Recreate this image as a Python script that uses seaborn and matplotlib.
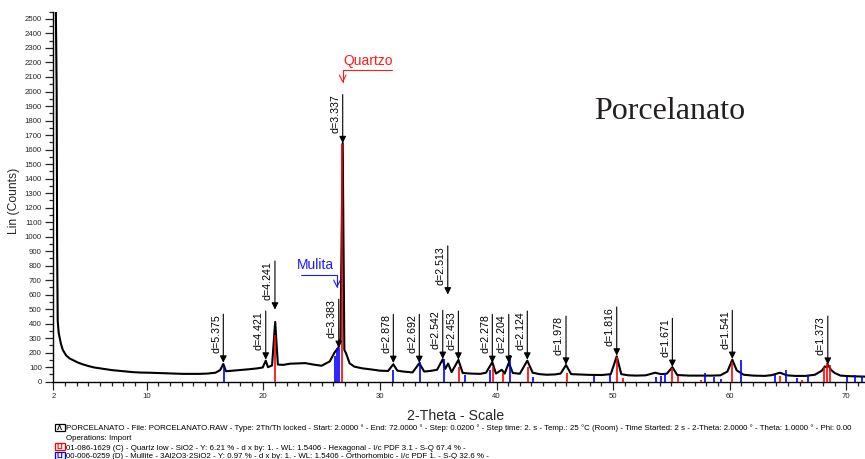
import pandas as pd
import seaborn as sns
import matplotlib.pyplot as plt
from matplotlib.patches import Rectangle
from matplotlib.ticker import MultipleLocator, FixedLocator

two_theta = [2.00, 2.20, 2.28, 2.32, 2.37, 2.45, 2.52, 2.65, 2.80, 3.10,
             3.40, 3.70, 4.10, 4.50, 5.00, 5.50, 6.00, 6.50, 7.00, 7.50,
             8.00, 8.80, 9.50, 10.20, 11.00, 11.70, 12.50, 13.10, 14.00, 14.50,
             15.20, 15.90, 16.30, 16.57, 16.80, 17.40, 18.00, 18.80, 19.50, 19.95,
             20.21, 20.40, 20.75, 21.02, 21.25, 21.70, 22.30, 23.10, 23.60, 24.30,
             25.00, 25.70, 26.10, 26.45, 26.62, 26.81, 26.95, 27.10, 27.40, 27.80,
             28.50, 29.30, 30.00, 30.70, 31.15, 31.50, 32.00, 32.80, 33.38, 33.80,
             34.30, 34.90, 35.39, 35.60, 35.85, 36.15, 36.73, 37.10, 37.80, 38.60,
             39.10, 39.64, 39.95, 40.45, 40.70, 41.05, 41.40, 42.00, 42.64, 43.10,
             43.70, 44.30, 45.00, 45.50, 45.96, 46.40, 47.00, 48.00, 49.00, 49.80,
             50.31, 50.70, 51.30, 52.00, 52.80, 53.60, 54.10, 54.60, 55.08, 55.50,
             56.50, 57.50, 58.50, 59.20, 59.80, 60.22, 60.60, 61.20, 62.00, 63.00,
             63.60, 64.30, 64.90, 65.60, 66.50, 67.30, 67.90, 68.15, 68.30, 68.43,
             68.70, 69.00, 69.50, 70.30, 71.00, 71.60]
counts = [2700, 2650, 2000, 900, 420, 340, 310, 260, 220, 180,
          160, 148, 132, 120, 108, 98, 92, 86, 80, 76,
          72, 66, 63, 62, 60, 58, 56, 54, 54, 54,
          56, 62, 80, 122, 72, 76, 80, 86, 92, 98,
          145, 100, 112, 412, 118, 116, 124, 126, 128, 118,
          110, 140, 200, 236, 300, 1645, 220, 195, 127, 104,
          92, 84, 76, 74, 120, 76, 70, 64, 127, 70,
          74, 82, 155, 88, 125, 66, 150, 60, 56, 54,
          62, 135, 56, 82, 56, 130, 60, 55, 145, 62,
          52, 48, 50, 56, 115, 52, 50, 47, 46, 52,
          175, 52, 44, 42, 44, 62, 52, 55, 100, 46,
          42, 42, 42, 44, 70, 152, 78, 48, 42, 40,
          45, 62, 44, 40, 40, 48, 76, 105, 100, 115,
          80, 60, 42, 38, 36, 35]

# reference cards (stick patterns)
quartz_pos = [21.03, 26.78, 36.76, 39.68, 40.53, 42.73, 46.02, 50.36, 50.82,
              55.08, 55.54, 57.54, 60.17, 64.31, 66.18, 68.06, 68.34, 68.63]
quartz_int = [322, 1640, 104, 104, 58, 104, 58, 173, 26,
              95, 42, 12, 135, 39, 12, 104, 127, 115]
mullite_pos = [16.60, 26.17, 26.35, 26.52, 31.12, 33.42, 35.47, 37.26, 39.44,
               41.16, 43.16, 48.39, 49.74, 53.68, 54.08, 54.41, 57.88, 58.68,
               59.25, 60.97, 63.91, 64.80, 65.75, 66.74, 70.04, 70.75, 71.32]
mullite_int = [104, 175, 235, 235, 81, 138, 155, 45, 81,
               184, 32, 37, 48, 32, 37, 58, 62, 32,
               19, 150, 46, 81, 26, 46, 35, 46, 37]

# d-spacing markers
d_labels = ["5.375", "4.421", "4.241", "3.383", "3.337", "2.878", "2.692", "2.542", "2.513",
            "2.453", "2.278", "2.204", "2.124", "1.978", "1.816", "1.671", "1.541", "1.373"]
d_pos = [16.57, 20.21, 21.00, 26.47, 26.81, 31.15, 33.38, 35.39, 35.82,
         36.73, 39.64, 41.05, 42.64, 45.96, 50.31, 55.08, 60.22, 68.41]
d_mark = [131, 152, 497, 233, 1644, 129, 129, 157, 601,
          152, 129, 129, 152, 117, 180, 102, 157, 117]

footer = [
    "PORCELANATO - File: PORCELANATO.RAW - Type: 2Th/Th locked - Start: 2.0000 ° - End: 72.0000 ° - "
    "Step: 0.0200 ° - Step time: 2. s - Temp.: 25 °C (Room) - Time Started: 2 s - 2-Theta: 2.0000 ° - "
    "Theta: 1.0000 ° - Phi: 0.00",
    "Operations: Import",
    "01-086-1629 (C) - Quartz low - SiO2 - Y: 6.21 % - d x by: 1. - WL: 1.5406 - Hexagonal - I/c PDF 3.1 - S-Q 67.4 % -",
    "00-006-0259 (D) - Mullite - 3Al2O3·2SiO2 - Y: 0.97 % - d x by: 1. - WL: 1.5406 - Orthorhombic - I/c PDF 1. - S-Q 32.6 % -",
]

sns.set_theme(style="ticks")
plt.rcParams["font.family"] = ["Liberation Sans", "DejaVu Sans"]

W, H = 865, 459
fig = plt.figure(figsize=(W / 100, H / 100), dpi=100)
ax = fig.add_axes([53.4 / W, 77.3 / H, 811.6 / W, 370 / H])

scan = pd.DataFrame({"two_theta": two_theta, "counts": counts})
sns.lineplot(data=scan, x="two_theta", y="counts", ax=ax, color="black",
             lw=1.5, estimator=None, sort=False, zorder=2)

ax.vlines(quartz_pos, 0, quartz_int, color="#ff0000", lw=1.2, zorder=3)
ax.vlines(mullite_pos, 0, mullite_int, color="#0000ff", lw=1.2, zorder=3)

for lab, x, y in zip(d_labels, d_pos, d_mark):
    ax.annotate("", xy=(x, y), xytext=(0, 35), textcoords="offset points",
                arrowprops=dict(arrowstyle="-|>,head_length=0.5,head_width=0.25",
                                color="black", lw=0.8, mutation_scale=8,
                                shrinkA=0, shrinkB=0), zorder=4)
    ax.annotate(f"d={lab}", xy=(x, y), xytext=(-1.5, 35), textcoords="offset points",
                rotation=90, ha="right", va="top", fontsize=7.7, color="black")

# phase call-outs
ax.annotate("", xy=(26.81, 2059), xytext=(31.04, 2148),
            arrowprops=dict(arrowstyle="->", color="#ff1a1a", lw=0.8, shrinkA=0, shrinkB=0,
                            connectionstyle="angle,angleA=0,angleB=90,rad=0"))
ax.text(26.84, 2210, "Quartzo", color="#ff1a1a", fontsize=10, ha="left", va="center")
ax.annotate("", xy=(26.32, 646), xytext=(23.21, 735),
            arrowprops=dict(arrowstyle="->", color="#1a1aff", lw=0.8, shrinkA=0, shrinkB=0,
                            connectionstyle="angle,angleA=0,angleB=90,rad=0"))
ax.text(22.89, 801, "Mulita", color="#1a1aff", fontsize=10, ha="left", va="center")

ax.set_xlim(2, 71.6)
ax.set_ylim(0, 2550)
ax.xaxis.set_major_locator(FixedLocator([2, 10, 20, 30, 40, 50, 60, 70]))
ax.xaxis.set_minor_locator(MultipleLocator(1))
ax.yaxis.set_major_locator(MultipleLocator(100))
ax.yaxis.set_minor_locator(MultipleLocator(50))
ax.tick_params(which="major", length=5.8, width=0.9, direction="out", labelsize=5.6, pad=2.5)
ax.tick_params(which="minor", length=3, width=0.9, direction="out")
sns.despine(ax=ax)
for s in ["left", "bottom"]:
    ax.spines[s].set_linewidth(1.0)
    ax.spines[s].set_color("black")

ax.set_ylabel("Lin (Counts)", fontsize=8.7)
ax.yaxis.set_label_coords(-0.041, 0.49)
ax.set_xlabel("2-Theta - Scale", fontsize=10.2)
ax.xaxis.set_label_coords(0.495, -0.074)

fig.text(594 / W, 1 - 119.3 / H, "Porcelanato", fontsize=23,
         family=["Liberation Serif", "DejaVu Serif"], va="baseline", ha="left", color="#231f20")

# footer with scan / card info
baselines = [430.5, 440, 449.5, 458.5]
icons = [("black", "Λ"), (None, None), ("#ff0000", "LI"), ("#0000ff", "LI")]
for line, yb, (col, glyph) in zip(footer, baselines, icons):
    fig.text(66.5 / W, 1 - yb / H, line, fontsize=5.7, va="baseline", ha="left", color="black")
    if col is not None:
        fig.add_artist(Rectangle((54.7 / W, 1 - (yb + 0.5) / H), 10.3 / W, 7.5 / H,
                                 transform=fig.transFigure, fill=False, edgecolor=col, lw=0.9))
        fig.text(59.8 / W, 1 - (yb - 0.3) / H, glyph, fontsize=5.5, color=col,
                 ha="center", va="baseline", fontweight="bold")

fig.savefig("out.png", dpi=100)
